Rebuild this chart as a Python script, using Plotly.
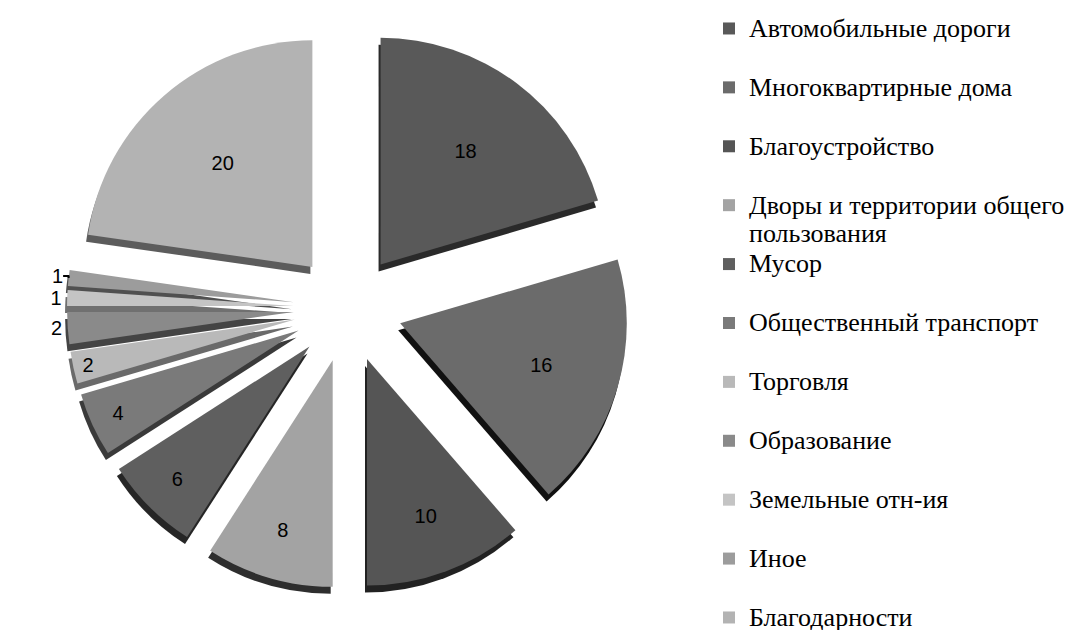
import plotly.graph_objects as go

labels = ["Автомобильные дороги", "Многоквартирные дома", "Благоустройство",
          "Дворы и территории общего пользования", "Мусор", "Общественный транспорт",
          "Торговля", "Образование", "Земельные отн-ия", "Иное", "Благодарности"]
values = [18, 16, 10, 8, 6, 4, 2, 2, 1, 1, 20]
colors = ["#595959", "#6b6b6b", "#555555", "#a3a3a3", "#5f5f5f", "#7a7a7a",
          "#b9b9b9", "#8a8a8a", "#c4c4c4", "#9c9c9c", "#b3b3b3"]
side_colors = ["#2a2a2a", "#111111", "#222222", "#2e2e2e", "#262626", "#3a3a3a",
               "#6a6a6a", "#444444", "#707070", "#505050", "#5c5c5c"]
text_pos = ["inside"] * 7 + ["outside", "outside", "outside", "inside"]

W, H = 1073, 630
cx, cy, half = 340, 300, 281
depth_dx, depth_dy = -2, 7

def big(t):
    return '<span style="font-size:26px">' + t + '</span>'

legend_labels = []
for i, lab in enumerate(labels):
    if lab.startswith("Дворы"):
        legend_labels.append(big("Дворы и территории общего") + "<br>" + big("пользования"))
    elif i == len(labels) - 1:
        legend_labels.append(big(lab))
    else:
        legend_labels.append(big(lab) + "<br> ")

def dom(ox, oy):
    return dict(x=[(cx + ox - half) / W, (cx + ox + half) / W],
                y=[(H - cy - oy - half) / H, (H - cy - oy + half) / H])

pull = [0.24] * len(values)

fig = go.Figure()
# side faces (3-D depth)
fig.add_trace(go.Pie(
    labels=legend_labels, values=values, sort=False, direction="clockwise",
    rotation=0, pull=pull, showlegend=False, textinfo="none", hoverinfo="skip",
    marker=dict(colors=side_colors, line=dict(width=0)),
    domain=dom(depth_dx, depth_dy),
))
fig.add_trace(go.Pie(
    labels=legend_labels,
    values=values,
    sort=False,
    direction="clockwise",
    rotation=0,
    pull=pull,
    marker=dict(colors=colors, line=dict(width=0)),
    textinfo="value",
    textposition=text_pos,
    insidetextorientation="horizontal",
    textfont=dict(family="Liberation Sans", size=20, color="black"),
    domain=dom(0, 0),
    hoverinfo="label+value",
))

fig.update_layout(
    width=W, height=H,
    margin=dict(l=0, r=0, t=0, b=0, autoexpand=False),
    paper_bgcolor="white",
    plot_bgcolor="white",
    showlegend=True,
    legend=dict(
        x=701 / W, y=1.0, xanchor="left", yanchor="top",
        valign="top",
        font=dict(family="Liberation Serif", size=21.5, color="black"),
        bgcolor="rgba(0,0,0,0)",
    ),
)

fig.write_html("out.html")
